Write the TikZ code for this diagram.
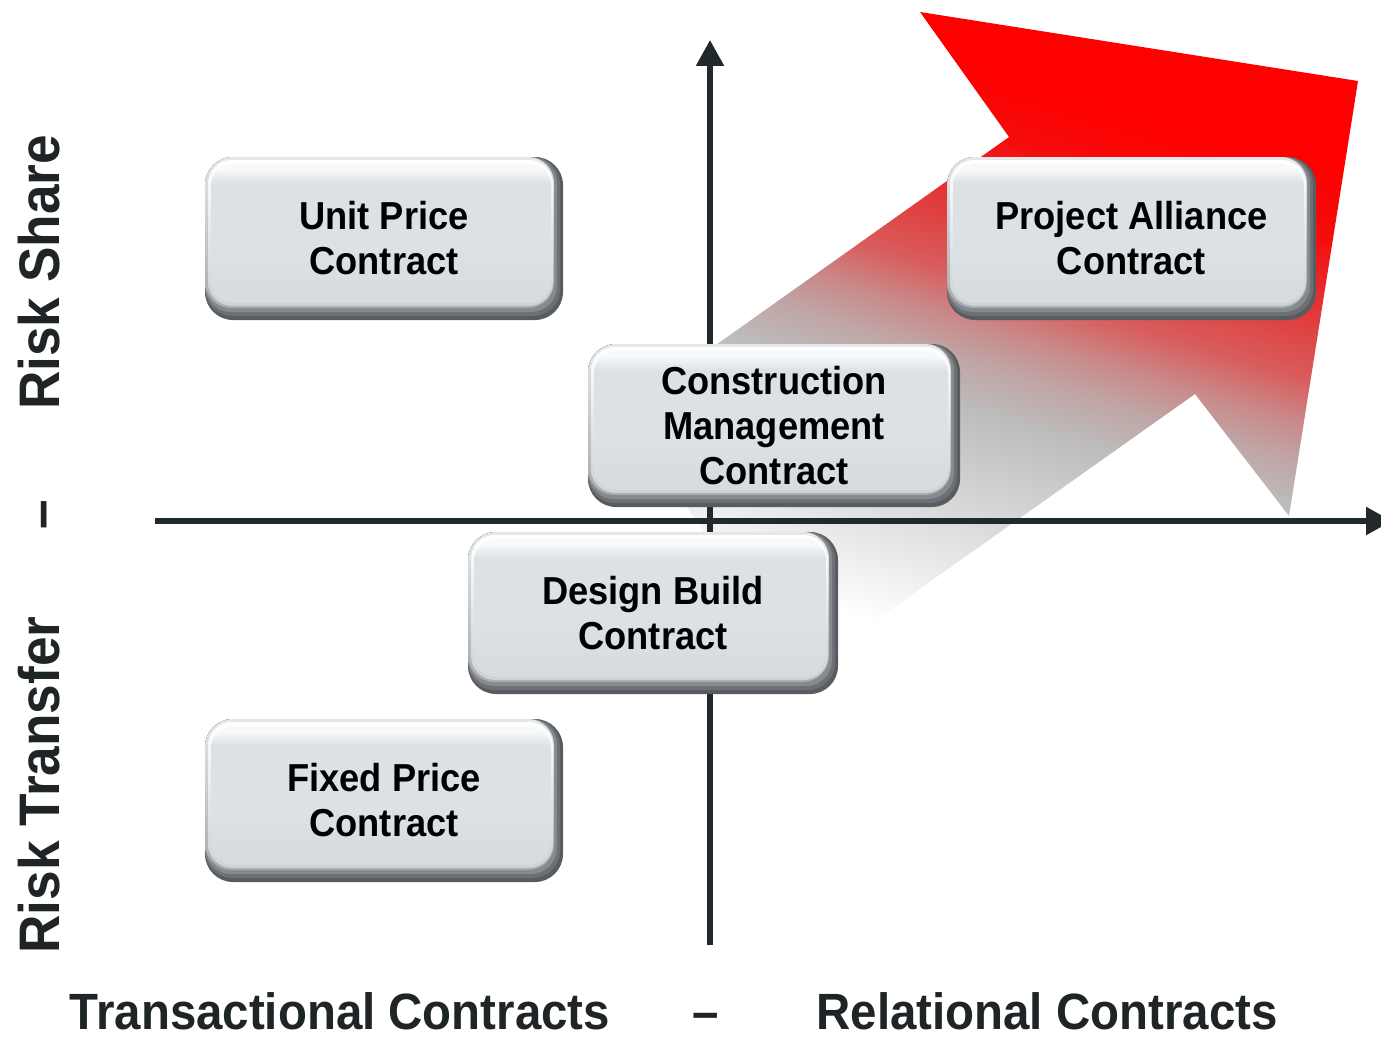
\documentclass[tikz,border=0pt]{standalone}
\usepackage{fontspec}
\setmainfont{Liberation Sans}[FakeStretch=0.93]
\usetikzlibrary{arrows.meta}

% palette
\definecolor{axisc}{HTML}{22292D}
\definecolor{labc}{HTML}{1F2427}
\definecolor{face}{HTML}{DBE1E5}
\definecolor{faceTop}{HTML}{F7F9FA}
\definecolor{faceLow}{HTML}{D5DBDF}
\definecolor{rimDark}{HTML}{585C60}
\definecolor{rimD2}{HTML}{6C7074}
\definecolor{rimD3}{HTML}{868A8E}
\definecolor{rimLight}{HTML}{E4E8EA}
\definecolor{rimLow}{HTML}{A6ABAF}
\definecolor{rimSoft}{HTML}{CDD2D6}
\definecolor{gA}{HTML}{F0F0F0}
\definecolor{gB}{HTML}{D6D6D6}
\definecolor{gC}{HTML}{BDBDBD}
\definecolor{pA}{HTML}{C0A4A4}
\definecolor{pB}{HTML}{C98A8A}
\definecolor{pC}{HTML}{D95C5C}
\definecolor{pD}{HTML}{E03C3C}
\definecolor{pE}{HTML}{F50D0D}
\definecolor{pF}{HTML}{FF0000}

% fill of the big block arrow: white tail, grey body, red head
\pgfdeclareverticalshading{arrowsh}{100bp}{
  color(0bp)=(white); color(31.7bp)=(white); color(34.8bp)=(gA);
  color(40.5bp)=(gB); color(46.1bp)=(gC); color(49.2bp)=(pA);
  color(51.4bp)=(pB); color(54.2bp)=(pC); color(58bp)=(pD);
  color(63bp)=(pE); color(66.7bp)=(pF); color(100bp)=(pF)}

% face of a contract box with a bright strip along its top
\pgfdeclareverticalshading{facesh}{100bp}{
  color(0bp)=(faceLow); color(25bp)=(faceLow); color(45bp)=(face);
  color(68bp)=(face); color(73bp)=(faceTop); color(100bp)=(faceTop)}

\tikzset{
  axis/.style={line width=2.75pt, draw=axisc,
    -{Triangle[width=13.5pt,length=13pt]}},
  vlab/.style={font=\fontsize{28.6}{32}\selectfont\bfseries, text=labc,
    inner sep=0pt, anchor=base, rotate=90},
  hlab/.style={font=\fontsize{25.5}{30}\selectfont\bfseries, text=labc,
    inner sep=0pt, anchor=base},
  cbox/.style={rectangle, rounded corners=14pt, minimum height=81.5pt,
    inner sep=0pt, fill=rimDark, align=center, text=black,
    font=\fontsize{19.5}{22.5}\selectfont\bfseries,
    path picture={
      \fill[rimD2, rounded corners=13.5pt]
        (path picture bounding box.north west) rectangle
        ([shift={(-3,-4)}]path picture bounding box.south east);
      \fill[rimD3, rounded corners=13pt]
        (path picture bounding box.north west) rectangle
        ([shift={(-6,-8)}]path picture bounding box.south east);
      \shade[rounded corners=13pt, top color=rimLight, bottom color=rimLow]
        (path picture bounding box.north west) rectangle
        ([shift={(-9,-12)}]path picture bounding box.south east);
      \shade[rounded corners=12pt, top color=white, bottom color=rimSoft]
        ([shift={(3,3)}]path picture bounding box.north west) rectangle
        ([shift={(-10,-14)}]path picture bounding box.south east);
      \shade[rounded corners=11pt, shading=facesh]
        ([shift={(6,7)}]path picture bounding box.north west) rectangle
        ([shift={(-12,-17)}]path picture bounding box.south east);
    }},
}

\begin{document}
\begin{tikzpicture}[x=0.5pt,y=-0.5pt]
\useasboundingbox (0,0) rectangle (1381,1038);

% block arrow rising to the upper right
\begin{scope}
  \clip (620,413) -- (1009,137) -- (920,12) -- (1358,81)
        -- (1289,516) -- (1195,394) -- (803.5,671.4) -- cycle;
  \shade[shading=arrowsh, shading angle=-17] (579,-51) rectangle (1379,749);
\end{scope}

% axes
\coordinate (yb) at (710,945);
\coordinate (yt) at (710,40);
\coordinate (xl) at (155,521);
\coordinate (xr) at (1392,521);
\draw[axis] (yb) -- (yt);
\draw[axis] (xl) -- (xr);

% contract boxes
\node[cbox, minimum width=179pt]   (unit) at (384,238.5)  {Unit Price\\Contract};
\node[cbox, minimum width=184.5pt] (pac)  at (1131.5,238.5) {Project Alliance\\Contract};
\node[cbox, minimum width=186pt]   (cmc)  at (774,425.5)  {Construction\\Management\\Contract};
\node[cbox, minimum width=185pt, minimum height=81pt] (dbc) at (653,613) {Design Build\\Contract};
\node[cbox, minimum width=179pt]   (fpc)  at (384,800.5)  {Fixed Price\\Contract};

% axis captions
\node[vlab] (rtr) at (59,785)   {Risk Transfer};
\node[vlab] (vdash) at (59,515) {–};
\node[vlab] (rsh) at (59,272.5) {Risk Share};
\node[hlab] (trc) at (340,1029)  {Transactional Contracts};
\node[hlab] (hdash) at (706,1029) {–};
\node[hlab] (rlc) at (1047,1029) {Relational Contracts};
\end{tikzpicture}
\end{document}
